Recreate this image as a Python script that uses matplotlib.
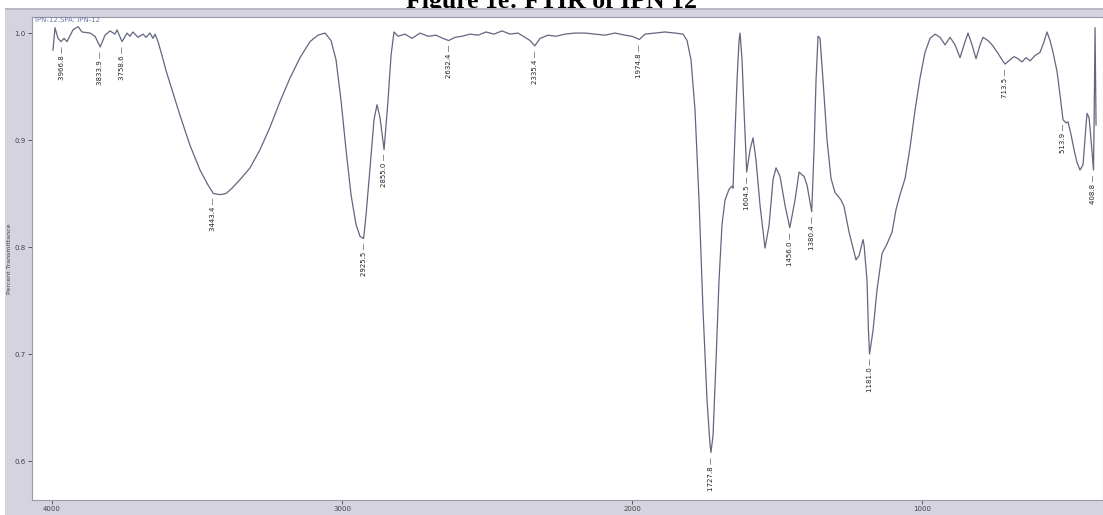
import matplotlib
matplotlib.use("Agg")
import matplotlib.pyplot as plt
from matplotlib.patches import Rectangle

# FTIR spectrum of IPN-12 (wavenumber in cm-1, transmittance fraction)
wavenumber = [
    3996.6, 3989.7, 3979.3, 3969.0, 3958.6, 3948.3, 3927.6, 3910.3, 3896.6, 3869.0,
    3851.7, 3833.9, 3817.3, 3800.0, 3782.8, 3775.9, 3758.6, 3741.4, 3731.1, 3720.7,
    3703.5, 3686.2, 3675.9, 3662.1, 3651.7, 3644.8, 3634.5, 3620.7, 3606.9, 3586.2,
    3558.6, 3524.1, 3489.7, 3462.1, 3443.4, 3420.7, 3400.0, 3379.3, 3351.7, 3317.2,
    3282.8, 3248.3, 3213.8, 3179.3, 3144.8, 3110.3, 3082.8, 3058.6, 3037.9, 3020.7,
    3003.4, 2986.2, 2969.0, 2951.7, 2937.9, 2925.5, 2917.2, 2903.4, 2889.7, 2879.3,
    2869.0, 2855.0, 2841.4, 2831.0, 2820.7, 2806.9, 2782.8, 2758.6, 2731.0, 2703.4,
    2675.9, 2651.7, 2632.4, 2610.3, 2586.2, 2558.6, 2531.0, 2503.4, 2475.9, 2448.3,
    2420.7, 2393.1, 2369.0, 2351.7, 2335.4, 2317.2, 2289.7, 2262.1, 2231.0, 2196.6,
    2162.1, 2127.6, 2093.1, 2058.6, 2024.1, 2000.0, 1974.8, 1955.2, 1920.7, 1886.2,
    1851.7, 1824.1, 1810.3, 1796.6, 1782.8, 1769.0, 1755.2, 1741.4, 1731.0, 1727.8,
    1720.7, 1710.3, 1700.0, 1689.7, 1679.3, 1665.5, 1655.2, 1651.7, 1644.8, 1637.9,
    1631.0, 1627.6, 1620.7, 1613.8, 1604.5, 1593.1, 1582.8, 1572.4, 1558.6, 1541.4,
    1527.6, 1513.8, 1503.4, 1489.7, 1472.4, 1456.0, 1437.9, 1424.1, 1406.9, 1396.6,
    1380.4, 1372.4, 1365.5, 1358.6, 1351.7, 1341.4, 1327.6, 1313.8, 1300.0, 1279.3,
    1269.0, 1251.7, 1227.6, 1217.2, 1203.4, 1200.0, 1189.7, 1184.8, 1181.0, 1169.0,
    1155.2, 1137.9, 1120.7, 1103.4, 1089.7, 1075.9, 1058.6, 1041.4, 1024.1, 1006.9,
    989.7, 972.4, 955.2, 937.9, 920.7, 903.4, 886.2, 869.0, 855.2, 841.4,
    827.6, 813.8, 800.0, 789.7, 772.4, 758.6, 737.9, 724.1, 713.5, 696.6,
    682.8, 669.0, 655.2, 641.4, 627.6, 610.3, 593.1, 579.3, 569.0, 558.6,
    548.3, 534.5, 524.1, 513.9, 503.4, 496.6, 486.2, 475.9, 465.5, 455.2,
    444.8, 434.5, 431.0, 424.1, 417.2, 408.8, 406.9, 403.4, 400.0,
]
transmittance = [
    0.984, 1.005, 0.995, 0.992, 0.995, 0.992, 1.003, 1.006, 1.001, 1.000,
    0.997, 0.987, 0.998, 1.002, 0.999, 1.003, 0.992, 1.000, 0.997, 1.001,
    0.996, 0.999, 0.996, 1.000, 0.995, 0.999, 0.992, 0.979, 0.965, 0.947,
    0.923, 0.895, 0.872, 0.858, 0.850, 0.849, 0.850, 0.855, 0.863, 0.874,
    0.891, 0.912, 0.936, 0.958, 0.977, 0.992, 0.998, 1.000, 0.993, 0.975,
    0.937, 0.891, 0.849, 0.821, 0.810, 0.808, 0.830, 0.874, 0.919, 0.933,
    0.921, 0.891, 0.937, 0.979, 1.001, 0.997, 0.999, 0.995, 1.000, 0.997,
    0.998, 0.995, 0.993, 0.996, 0.997, 0.999, 0.998, 1.001, 0.999, 1.002,
    0.999, 1.000, 0.996, 0.993, 0.988, 0.995, 0.998, 0.997, 0.999, 1.000,
    1.000, 0.999, 0.998, 1.000, 0.998, 0.997, 0.994, 0.999, 1.000, 1.001,
    1.000, 0.999, 0.993, 0.975, 0.928, 0.844, 0.741, 0.657, 0.615, 0.608,
    0.624, 0.694, 0.769, 0.821, 0.844, 0.854, 0.857, 0.855, 0.907, 0.956,
    0.993, 1.000, 0.975, 0.928, 0.870, 0.891, 0.902, 0.881, 0.839, 0.799,
    0.820, 0.863, 0.874, 0.866, 0.839, 0.818, 0.844, 0.870, 0.866, 0.858,
    0.833, 0.891, 0.956, 0.997, 0.995, 0.956, 0.900, 0.864, 0.851, 0.844,
    0.838, 0.814, 0.788, 0.792, 0.807, 0.802, 0.769, 0.722, 0.700, 0.722,
    0.760, 0.794, 0.803, 0.814, 0.835, 0.849, 0.864, 0.893, 0.928, 0.958,
    0.982, 0.995, 0.999, 0.996, 0.989, 0.996, 0.989, 0.977, 0.989, 1.000,
    0.989, 0.976, 0.989, 0.996, 0.993, 0.989, 0.981, 0.975, 0.971, 0.975,
    0.978, 0.976, 0.973, 0.977, 0.974, 0.979, 0.982, 0.992, 1.001, 0.993,
    0.982, 0.964, 0.942, 0.919, 0.916, 0.917, 0.905, 0.891, 0.879, 0.872,
    0.877, 0.914, 0.925, 0.921, 0.900, 0.872, 0.911, 1.005, 0.914,
]

# Labelled peak positions (cm-1) and their transmittance
peak_wn = [3966.8, 3833.9, 3758.6, 3443.4, 2925.5, 2855.0, 2632.4, 2335.4,
           1974.8, 1727.8, 1604.5, 1456.0, 1380.4, 1181.0, 713.5, 513.9, 408.8]
peak_t = [0.992, 0.987, 0.992, 0.850, 0.808, 0.891, 0.993, 0.988,
          0.994, 0.608, 0.870, 0.818, 0.833, 0.700, 0.971, 0.919, 0.872]

x_ticks = [4000, 3000, 2000, 1000]
y_ticks = [0.6, 0.7, 0.8, 0.9, 1.0]

W, H = 1103, 515
fig = plt.figure(figsize=(W / 100, H / 100), dpi=100, facecolor="white")

# grey window panel behind the spectrum
panel_top = 1 - 8 / H
fig.add_artist(Rectangle((5 / W, 0), 1 - 5 / W, panel_top,
                         transform=fig.transFigure, facecolor="#d5d3df",
                         edgecolor="none", zorder=-5))
fig.add_artist(Rectangle((5 / W, panel_top - 2 / H), 1 - 5 / W, 2 / H,
                         transform=fig.transFigure, facecolor="#b9b7c4",
                         edgecolor="none", zorder=-4))

fig.text(0.5, 1 - 8 / H, "Figure 1e: FTIR of IPN 12", ha="center", va="baseline",
         fontsize=18.5, fontweight="bold", family="Liberation Serif", color="black",
         zorder=-6)

ax = fig.add_axes([32 / W, 1 - 500 / H, 1 - 32 / W, (500 - 17) / H])
ax.set_zorder(2)
ax.set_facecolor("white")
line_color = "#62667f"
ax.plot(wavenumber, transmittance, color=line_color, lw=0.9)

ax.set_xlim(4069, 376)
ax.set_ylim(0.5636, 1.015)
ax.set_xticks(x_ticks)
ax.set_xticklabels([str(v) for v in x_ticks])
ax.set_yticks(y_ticks)
ax.set_yticklabels([f"{v:.1f}" for v in y_ticks])
ax.tick_params(axis="both", labelsize=5, colors="#444444", length=3, width=0.6,
               pad=1.5)
for s in ax.spines.values():
    s.set_color("#9a9aa6")
    s.set_linewidth(0.8)

ax.set_ylabel("Percent Transmittance", fontsize=4.5, color="#444444", labelpad=2)
ax.set_xlabel("Wavenumbers", fontsize=5, color="#444444", labelpad=4)

ax.text(0.003, 0.999, "IPN-12.SPA: IPN-12", transform=ax.transAxes, fontsize=5,
        color="#6878a8", ha="left", va="top")

# peak annotations: short tick under each minimum, then the value reading upward
for wn, t in zip(peak_wn, peak_t):
    ax.annotate(f"{wn:.1f} \u2014", xy=(wn, t), xytext=(0, -3),
                textcoords="offset points", rotation=90, ha="center", va="top",
                fontsize=5, color="#222222", family="Liberation Sans Narrow")

fig.savefig("out.png", dpi=100, facecolor="white")
